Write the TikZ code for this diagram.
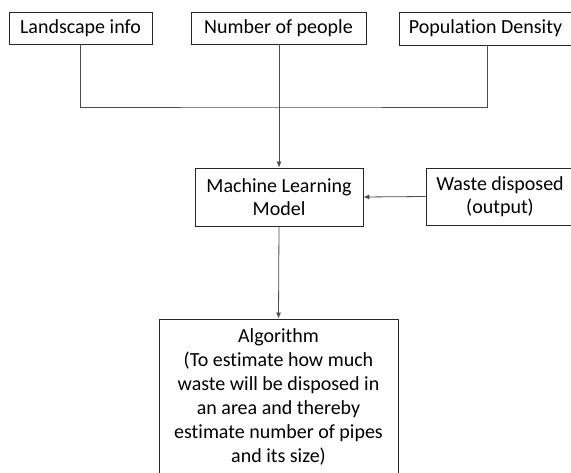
\documentclass[tikz,border=0pt]{standalone}
\usepackage{fontspec}
\setmainfont{Carlito}[Ligatures=NoCommon]
\usepackage{tikz}
\usetikzlibrary{arrows,arrows.meta}

\begin{document}
\begin{tikzpicture}[x=1pt,y=1pt]
\tikzstyle{every node}=[draw=black!85,line width=0.8pt,align=center,inner sep=0pt,font=\fontsize{20}{23}\selectfont];
\tikzstyle{link}=[draw=black!70,line width=0.8pt,>={Latex[length=6pt,width=5pt]}];
\useasboundingbox (0,0) rectangle (571,-473);
\node[minimum width=143,minimum height=32] (land) at (80.5,-28) {Landscape info};
\node[minimum width=175,minimum height=32] (num) at (278.5,-28) {Number of people};
\node[minimum width=173,minimum height=33] (pop) at (485.5,-28.5) {Population Density};
\node[minimum width=168,minimum height=58] (ml) at (279,-197) {Machine Learning\\Model};
\node[minimum width=148,minimum height=57] (waste) at (500,-196.5) {Waste disposed\\(output)};
\node[minimum width=239,minimum height=156,font=\fontsize{20}{24}\selectfont] (algo) at (278.5,-397)
  {Algorithm\\(To estimate how much\\waste will be disposed in\\an area and thereby\\estimate number of pipes\\and its size)};
\coordinate (junc) at (279,-107);
\draw [link] (land.south) |- (junc) -| (487,-45);
\draw [link,->] (279,-44) -- (ml.north);
\foreach \from/\to in {waste.west/ml.east, ml.south/algo.north}
    \draw [link,->] (\from) -- (\to);
\end{tikzpicture}
\end{document}
